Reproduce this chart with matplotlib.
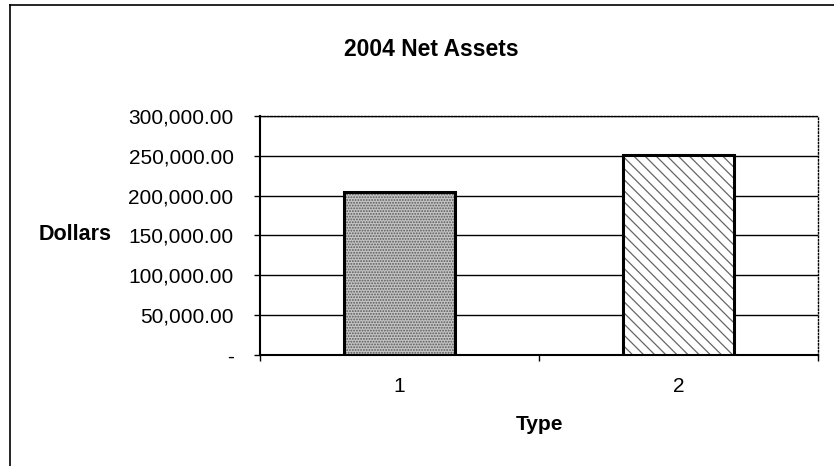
import matplotlib
matplotlib.use("Agg")
import matplotlib.pyplot as plt
from matplotlib.lines import Line2D

plt.rcParams['font.family'] = ['Liberation Sans', 'DejaVu Sans']
plt.rcParams['hatch.linewidth'] = 0.9

# Data
categories = ["1", "2"]
values = [205000, 250500]
ytick_values = [0, 50000, 100000, 150000, 200000, 250000, 300000]
ytick_labels = ["-", "50,000.00", "100,000.00", "150,000.00", "200,000.00", "250,000.00", "300,000.00"]
title = "2004 Net Assets"
xlabel = "Type"
ylabel = "Dollars"

W, H = 834, 466
fig = plt.figure(figsize=(W / 100, H / 100), dpi=100)
fig.patch.set_facecolor("white")

# outer chart border (left + top visible)
fig.add_artist(Line2D([10 / W, 10 / W], [0, 1 - 5 / H], transform=fig.transFigure, color="black", lw=1.2))
fig.add_artist(Line2D([10 / W, 1], [1 - 5 / H, 1 - 5 / H], transform=fig.transFigure, color="black", lw=1.2))

left, right, top, bottom = 260, 818, 116, 355
ax = fig.add_axes([left / W, 1 - bottom / H, (right - left) / W, (bottom - top) / H])

x = list(range(1, len(categories) + 1))
hatches = ["......", "\\\\\\"]
faces = ["#c4c4c4", "white"]
hatch_cols = [(0.35, 0.35, 0.35, 1.0), (0.4, 0.4, 0.4, 1.0)]
for xi, v, h, fc, hc in zip(x, values, hatches, faces, hatch_cols):
    b = ax.bar(xi, v, width=0.4, color=fc, edgecolor="black", linewidth=2.2, zorder=3)
    for p in b:
        p.set_hatch(h)
        p._hatch_color = hc

ax.set_xlim(0.5, 2.5)
ax.set_ylim(0, 300000)
ax.set_yticks(ytick_values)
ax.set_yticklabels(ytick_labels, fontsize=15)
ax.yaxis.grid(True, color="black", lw=1.0, zorder=0)
ax.set_axisbelow(True)

ax.set_xticks(x)
ax.set_xticklabels(categories, fontsize=15)
ax.tick_params(axis="x", which="major", length=0, pad=16)
ax.set_xticks([0.5, 1.5, 2.5], minor=True)
ax.tick_params(axis="x", which="minor", length=4.5, width=1, direction="out")
ax.tick_params(axis="y", length=4, width=1, direction="out", pad=15)

ax.spines["top"].set_linestyle((0, (1, 1.5)))
ax.spines["top"].set_linewidth(1.0)
ax.spines["right"].set_linestyle((0, (1, 1.5)))
ax.spines["right"].set_linewidth(1.0)
ax.spines["left"].set_linewidth(1.5)
ax.spines["bottom"].set_linewidth(1.5)

fig.text(431 / W, 1 - 50 / H, title, ha="center", va="center", fontsize=16.5, fontweight="bold")
fig.text(75 / W, 1 - 234 / H, ylabel, ha="center", va="center", fontsize=15.5, fontweight="bold")
fig.text(539 / W, 1 - 425 / H, xlabel, ha="center", va="center", fontsize=15, fontweight="bold")

fig.savefig("out.png", dpi=100, facecolor="white")
